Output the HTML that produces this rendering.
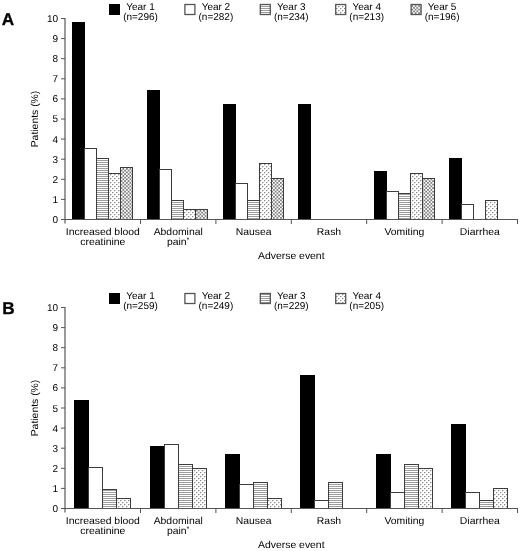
<!DOCTYPE html>
<html><head><meta charset="utf-8"><style>
html,body{margin:0;padding:0;background:#fff;}
body{width:520px;height:551px;overflow:hidden;}
svg{display:block;will-change:transform;}
text{font-family:"Liberation Sans", sans-serif;fill:#000;text-rendering:geometricPrecision;}
</style></head><body>
<svg width="520" height="551" viewBox="0 0 520 551">
<defs>
<pattern id="p3" width="4" height="2" patternUnits="userSpaceOnUse"><rect width="4" height="2" fill="#fff"/><rect width="4" height="1" fill="#9c9c9c"/></pattern>
<pattern id="p4" width="4" height="4" patternUnits="userSpaceOnUse"><rect width="4" height="4" fill="#fff"/><rect x="0" y="0" width="1" height="1" fill="#8e8e8e"/><rect x="1" y="0" width="1" height="1" fill="#d2d2d2"/><rect x="0" y="1" width="1" height="1" fill="#e2e2e2"/><rect x="2" y="2" width="1" height="1" fill="#8e8e8e"/><rect x="3" y="2" width="1" height="1" fill="#d2d2d2"/><rect x="2" y="3" width="1" height="1" fill="#e2e2e2"/></pattern>
<pattern id="p5" width="3.5" height="3.5" patternUnits="userSpaceOnUse"><rect width="3.5" height="3.5" fill="#fff"/><rect x="0" y="0" width="1.75" height="1.75" fill="#808080"/><rect x="1.75" y="1.75" width="1.75" height="1.75" fill="#808080"/></pattern>
</defs>
<rect width="520" height="551" fill="#fff"/>

<text x="1.8" y="25.3" style="font-weight:bold;font-size:17.2px;stroke:#000;stroke-width:0.3px" fill="#000">A</text>
<rect x="109" y="4" width="11" height="11" fill="#000"/>
<text x="140.5" y="10" text-anchor="middle" style="font-size:10px">Year 1</text>
<text x="140.5" y="20" text-anchor="middle" style="font-size:10px">(n=296)</text>
<rect x="184.9" y="4.5" width="10" height="10" fill="#fff" stroke="#555" stroke-width="1.3"/>
<text x="215.9" y="10" text-anchor="middle" style="font-size:10px">Year 2</text>
<text x="215.9" y="20" text-anchor="middle" style="font-size:10px">(n=282)</text>
<rect x="260.3" y="4.5" width="10" height="10" fill="url(#p3)" stroke="#555" stroke-width="1.3"/>
<text x="291.3" y="10" text-anchor="middle" style="font-size:10px">Year 3</text>
<text x="291.3" y="20" text-anchor="middle" style="font-size:10px">(n=234)</text>
<rect x="335.7" y="4.5" width="10" height="10" fill="url(#p4)" stroke="#555" stroke-width="1.3"/>
<text x="366.7" y="10" text-anchor="middle" style="font-size:10px">Year 4</text>
<text x="366.7" y="20" text-anchor="middle" style="font-size:10px">(n=213)</text>
<rect x="411.1" y="4.5" width="10" height="10" fill="url(#p5)" stroke="#555" stroke-width="1.3"/>
<text x="442.1" y="10" text-anchor="middle" style="font-size:10px">Year 5</text>
<text x="442.1" y="20" text-anchor="middle" style="font-size:10px">(n=196)</text>
<rect x="64" y="18" width="2" height="205.5" fill="#9a9a9a"/>
<line x1="61" y1="219.5" x2="65" y2="219.5" stroke="#555" stroke-width="1"/>
<text x="58.1" y="223" text-anchor="end" style="font-size:10px">0</text>
<line x1="61" y1="199.4" x2="65" y2="199.4" stroke="#555" stroke-width="1"/>
<text x="58.1" y="203" text-anchor="end" style="font-size:10px">1</text>
<line x1="61" y1="179.3" x2="65" y2="179.3" stroke="#555" stroke-width="1"/>
<text x="58.1" y="183" text-anchor="end" style="font-size:10px">2</text>
<line x1="61" y1="159.2" x2="65" y2="159.2" stroke="#555" stroke-width="1"/>
<text x="58.1" y="163" text-anchor="end" style="font-size:10px">3</text>
<line x1="61" y1="139.1" x2="65" y2="139.1" stroke="#555" stroke-width="1"/>
<text x="58.1" y="143" text-anchor="end" style="font-size:10px">4</text>
<line x1="61" y1="119" x2="65" y2="119" stroke="#555" stroke-width="1"/>
<text x="58.1" y="122" text-anchor="end" style="font-size:10px">5</text>
<line x1="61" y1="98.9" x2="65" y2="98.9" stroke="#555" stroke-width="1"/>
<text x="58.1" y="102" text-anchor="end" style="font-size:10px">6</text>
<line x1="61" y1="78.8" x2="65" y2="78.8" stroke="#555" stroke-width="1"/>
<text x="58.1" y="82" text-anchor="end" style="font-size:10px">7</text>
<line x1="61" y1="58.7" x2="65" y2="58.7" stroke="#555" stroke-width="1"/>
<text x="58.1" y="62" text-anchor="end" style="font-size:10px">8</text>
<line x1="61" y1="38.6" x2="65" y2="38.6" stroke="#555" stroke-width="1"/>
<text x="58.1" y="42" text-anchor="end" style="font-size:10px">9</text>
<line x1="61" y1="18.5" x2="65" y2="18.5" stroke="#555" stroke-width="1"/>
<text x="58.1" y="22" text-anchor="end" style="font-size:10px">10</text>
<text transform="translate(37.6 119) rotate(-90) scale(1.04 1)" text-anchor="middle" style="font-size:10px">Patients (%)</text>
<rect x="72" y="22" width="13" height="197.5" fill="#000"/>
<rect x="84.5" y="148.5" width="12" height="71" fill="#fff" stroke="#3c3c3c" stroke-width="1"/>
<rect x="96.5" y="158.5" width="12" height="61" fill="url(#p3)" stroke="#3c3c3c" stroke-width="1"/>
<rect x="108.5" y="173.5" width="12" height="46" fill="url(#p4)" stroke="#3c3c3c" stroke-width="1"/>
<rect x="120.5" y="167.5" width="12" height="52" fill="url(#p5)" stroke="#3c3c3c" stroke-width="1"/>
<rect x="147" y="90" width="13" height="129.5" fill="#000"/>
<rect x="159.5" y="169.5" width="12" height="50" fill="#fff" stroke="#3c3c3c" stroke-width="1"/>
<rect x="171.5" y="200.5" width="12" height="19" fill="url(#p3)" stroke="#3c3c3c" stroke-width="1"/>
<rect x="183.5" y="209.5" width="12" height="10" fill="url(#p4)" stroke="#3c3c3c" stroke-width="1"/>
<rect x="195.5" y="209.5" width="12" height="10" fill="url(#p5)" stroke="#3c3c3c" stroke-width="1"/>
<rect x="223" y="104" width="13" height="115.5" fill="#000"/>
<rect x="235.5" y="183.5" width="12" height="36" fill="#fff" stroke="#3c3c3c" stroke-width="1"/>
<rect x="247.5" y="200.5" width="12" height="19" fill="url(#p3)" stroke="#3c3c3c" stroke-width="1"/>
<rect x="259.5" y="163.5" width="12" height="56" fill="url(#p4)" stroke="#3c3c3c" stroke-width="1"/>
<rect x="271.5" y="178.5" width="12" height="41" fill="url(#p5)" stroke="#3c3c3c" stroke-width="1"/>
<rect x="298" y="104" width="13" height="115.5" fill="#000"/>
<rect x="374" y="171" width="13" height="48.5" fill="#000"/>
<rect x="386.5" y="191.5" width="12" height="28" fill="#fff" stroke="#3c3c3c" stroke-width="1"/>
<rect x="398.5" y="193.5" width="12" height="26" fill="url(#p3)" stroke="#3c3c3c" stroke-width="1"/>
<rect x="410.5" y="173.5" width="12" height="46" fill="url(#p4)" stroke="#3c3c3c" stroke-width="1"/>
<rect x="422.5" y="178.5" width="12" height="41" fill="url(#p5)" stroke="#3c3c3c" stroke-width="1"/>
<rect x="449" y="158" width="13" height="61.5" fill="#000"/>
<rect x="461.5" y="204.5" width="12" height="15" fill="#fff" stroke="#3c3c3c" stroke-width="1"/>
<rect x="485.5" y="200.5" width="12" height="19" fill="url(#p4)" stroke="#3c3c3c" stroke-width="1"/>
<line x1="61" y1="219.5" x2="518" y2="219.5" stroke="#555" stroke-width="1"/>
<line x1="140.5" y1="219.5" x2="140.5" y2="224" stroke="#555" stroke-width="1"/>
<line x1="215.9" y1="219.5" x2="215.9" y2="224" stroke="#555" stroke-width="1"/>
<line x1="291.3" y1="219.5" x2="291.3" y2="224" stroke="#555" stroke-width="1"/>
<line x1="366.7" y1="219.5" x2="366.7" y2="224" stroke="#555" stroke-width="1"/>
<line x1="442.1" y1="219.5" x2="442.1" y2="224" stroke="#555" stroke-width="1"/>
<line x1="517.5" y1="219.5" x2="517.5" y2="224" stroke="#555" stroke-width="1"/>
<text transform="translate(102.8 235) scale(1.04 1)" text-anchor="middle" style="font-size:10px">Increased blood</text>
<text transform="translate(102.8 245) scale(1.04 1)" text-anchor="middle" style="font-size:10px">creatinine</text>
<text transform="translate(178.2 235) scale(1.04 1)" text-anchor="middle" style="font-size:10px">Abdominal</text>
<text transform="translate(178.2 245) scale(1.04 1)" text-anchor="middle" style="font-size:10px">pain<tspan dy="-3" style="font-size:7px">*</tspan></text>
<text transform="translate(253.6 235) scale(1.04 1)" text-anchor="middle" style="font-size:10px">Nausea</text>
<text transform="translate(329 235) scale(1.04 1)" text-anchor="middle" style="font-size:10px">Rash</text>
<text transform="translate(404.4 235) scale(1.04 1)" text-anchor="middle" style="font-size:10px">Vomiting</text>
<text transform="translate(479.8 235) scale(1.04 1)" text-anchor="middle" style="font-size:10px">Diarrhea</text>
<text transform="translate(291.3 259) scale(1.04 1)" text-anchor="middle" style="font-size:10px">Adverse event</text>
<text x="2.2" y="314" style="font-weight:bold;font-size:17.2px;stroke:#000;stroke-width:0.3px" fill="#000">B</text>
<rect x="109" y="293" width="11" height="11" fill="#000"/>
<text x="140.5" y="299" text-anchor="middle" style="font-size:10px">Year 1</text>
<text x="140.5" y="309" text-anchor="middle" style="font-size:10px">(n=259)</text>
<rect x="184.9" y="293.5" width="10" height="10" fill="#fff" stroke="#555" stroke-width="1.3"/>
<text x="215.9" y="299" text-anchor="middle" style="font-size:10px">Year 2</text>
<text x="215.9" y="309" text-anchor="middle" style="font-size:10px">(n=249)</text>
<rect x="260.3" y="293.5" width="10" height="10" fill="url(#p3)" stroke="#555" stroke-width="1.3"/>
<text x="291.3" y="299" text-anchor="middle" style="font-size:10px">Year 3</text>
<text x="291.3" y="309" text-anchor="middle" style="font-size:10px">(n=229)</text>
<rect x="335.7" y="293.5" width="10" height="10" fill="url(#p4)" stroke="#555" stroke-width="1.3"/>
<text x="366.7" y="299" text-anchor="middle" style="font-size:10px">Year 4</text>
<text x="366.7" y="309" text-anchor="middle" style="font-size:10px">(n=205)</text>
<rect x="64" y="307" width="2" height="205.5" fill="#9a9a9a"/>
<line x1="61" y1="508.5" x2="65" y2="508.5" stroke="#555" stroke-width="1"/>
<text x="58.1" y="512" text-anchor="end" style="font-size:10px">0</text>
<line x1="61" y1="488.4" x2="65" y2="488.4" stroke="#555" stroke-width="1"/>
<text x="58.1" y="492" text-anchor="end" style="font-size:10px">1</text>
<line x1="61" y1="468.3" x2="65" y2="468.3" stroke="#555" stroke-width="1"/>
<text x="58.1" y="472" text-anchor="end" style="font-size:10px">2</text>
<line x1="61" y1="448.2" x2="65" y2="448.2" stroke="#555" stroke-width="1"/>
<text x="58.1" y="452" text-anchor="end" style="font-size:10px">3</text>
<line x1="61" y1="428.1" x2="65" y2="428.1" stroke="#555" stroke-width="1"/>
<text x="58.1" y="432" text-anchor="end" style="font-size:10px">4</text>
<line x1="61" y1="408" x2="65" y2="408" stroke="#555" stroke-width="1"/>
<text x="58.1" y="412" text-anchor="end" style="font-size:10px">5</text>
<line x1="61" y1="387.9" x2="65" y2="387.9" stroke="#555" stroke-width="1"/>
<text x="58.1" y="391" text-anchor="end" style="font-size:10px">6</text>
<line x1="61" y1="367.8" x2="65" y2="367.8" stroke="#555" stroke-width="1"/>
<text x="58.1" y="371" text-anchor="end" style="font-size:10px">7</text>
<line x1="61" y1="347.7" x2="65" y2="347.7" stroke="#555" stroke-width="1"/>
<text x="58.1" y="351" text-anchor="end" style="font-size:10px">8</text>
<line x1="61" y1="327.6" x2="65" y2="327.6" stroke="#555" stroke-width="1"/>
<text x="58.1" y="331" text-anchor="end" style="font-size:10px">9</text>
<line x1="61" y1="307.5" x2="65" y2="307.5" stroke="#555" stroke-width="1"/>
<text x="58.1" y="311" text-anchor="end" style="font-size:10px">10</text>
<text transform="translate(37.6 408) rotate(-90) scale(1.04 1)" text-anchor="middle" style="font-size:10px">Patients (%)</text>
<rect x="74" y="400" width="15" height="108.5" fill="#000"/>
<rect x="88.5" y="467.5" width="14" height="41" fill="#fff" stroke="#3c3c3c" stroke-width="1"/>
<rect x="102.5" y="489.5" width="14" height="19" fill="url(#p3)" stroke="#3c3c3c" stroke-width="1"/>
<rect x="116.5" y="498.5" width="14" height="10" fill="url(#p4)" stroke="#3c3c3c" stroke-width="1"/>
<rect x="150" y="446" width="15" height="62.5" fill="#000"/>
<rect x="164.5" y="444.5" width="14" height="64" fill="#fff" stroke="#3c3c3c" stroke-width="1"/>
<rect x="178.5" y="464.5" width="14" height="44" fill="url(#p3)" stroke="#3c3c3c" stroke-width="1"/>
<rect x="192.5" y="468.5" width="14" height="40" fill="url(#p4)" stroke="#3c3c3c" stroke-width="1"/>
<rect x="225" y="454" width="15" height="54.5" fill="#000"/>
<rect x="239.5" y="484.5" width="14" height="24" fill="#fff" stroke="#3c3c3c" stroke-width="1"/>
<rect x="253.5" y="482.5" width="14" height="26" fill="url(#p3)" stroke="#3c3c3c" stroke-width="1"/>
<rect x="267.5" y="498.5" width="14" height="10" fill="url(#p4)" stroke="#3c3c3c" stroke-width="1"/>
<rect x="300" y="375" width="15" height="133.5" fill="#000"/>
<rect x="314.5" y="500.5" width="14" height="8" fill="#fff" stroke="#3c3c3c" stroke-width="1"/>
<rect x="328.5" y="482.5" width="14" height="26" fill="url(#p3)" stroke="#3c3c3c" stroke-width="1"/>
<rect x="376" y="454" width="15" height="54.5" fill="#000"/>
<rect x="390.5" y="492.5" width="14" height="16" fill="#fff" stroke="#3c3c3c" stroke-width="1"/>
<rect x="404.5" y="464.5" width="14" height="44" fill="url(#p3)" stroke="#3c3c3c" stroke-width="1"/>
<rect x="418.5" y="468.5" width="14" height="40" fill="url(#p4)" stroke="#3c3c3c" stroke-width="1"/>
<rect x="451" y="424" width="15" height="84.5" fill="#000"/>
<rect x="465.5" y="492.5" width="14" height="16" fill="#fff" stroke="#3c3c3c" stroke-width="1"/>
<rect x="479.5" y="500.5" width="14" height="8" fill="url(#p3)" stroke="#3c3c3c" stroke-width="1"/>
<rect x="493.5" y="488.5" width="14" height="20" fill="url(#p4)" stroke="#3c3c3c" stroke-width="1"/>
<line x1="61" y1="508.5" x2="518" y2="508.5" stroke="#555" stroke-width="1"/>
<line x1="140.5" y1="508.5" x2="140.5" y2="513" stroke="#555" stroke-width="1"/>
<line x1="215.9" y1="508.5" x2="215.9" y2="513" stroke="#555" stroke-width="1"/>
<line x1="291.3" y1="508.5" x2="291.3" y2="513" stroke="#555" stroke-width="1"/>
<line x1="366.7" y1="508.5" x2="366.7" y2="513" stroke="#555" stroke-width="1"/>
<line x1="442.1" y1="508.5" x2="442.1" y2="513" stroke="#555" stroke-width="1"/>
<line x1="517.5" y1="508.5" x2="517.5" y2="513" stroke="#555" stroke-width="1"/>
<text transform="translate(102.8 524) scale(1.04 1)" text-anchor="middle" style="font-size:10px">Increased blood</text>
<text transform="translate(102.8 534) scale(1.04 1)" text-anchor="middle" style="font-size:10px">creatinine</text>
<text transform="translate(178.2 524) scale(1.04 1)" text-anchor="middle" style="font-size:10px">Abdominal</text>
<text transform="translate(178.2 534) scale(1.04 1)" text-anchor="middle" style="font-size:10px">pain<tspan dy="-3" style="font-size:7px">*</tspan></text>
<text transform="translate(253.6 524) scale(1.04 1)" text-anchor="middle" style="font-size:10px">Nausea</text>
<text transform="translate(329 524) scale(1.04 1)" text-anchor="middle" style="font-size:10px">Rash</text>
<text transform="translate(404.4 524) scale(1.04 1)" text-anchor="middle" style="font-size:10px">Vomiting</text>
<text transform="translate(479.8 524) scale(1.04 1)" text-anchor="middle" style="font-size:10px">Diarrhea</text>
<text transform="translate(291.3 548) scale(1.04 1)" text-anchor="middle" style="font-size:10px">Adverse event</text>
</svg>
</body></html>
